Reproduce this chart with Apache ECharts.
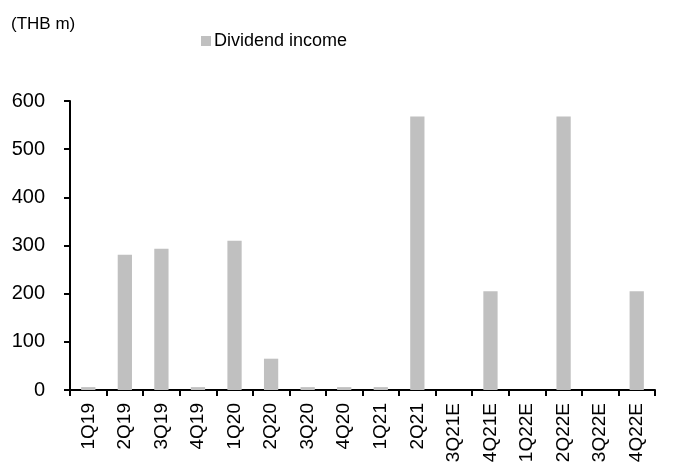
<!DOCTYPE html>
<html>
<head>
<meta charset="utf-8">
<script src="https://cdn.jsdelivr.net/npm/echarts@6/dist/echarts.min.js"></script>
<style>
  html, body { margin: 0; padding: 0; background: #fff; }
  #main { width: 673px; height: 475px; }
</style>
</head>
<body>
<div id="main"></div>
<script>
const quarters = ['1Q19', '2Q19', '3Q19', '4Q19', '1Q20', '2Q20', '3Q20', '4Q20',
  '1Q21', '2Q21', '3Q21E', '4Q21E', '1Q22E', '2Q22E', '3Q22E', '4Q22E'];
const dividendIncome = [6, 281, 293, 6, 310, 65, 6, 6, 6, 568, 0, 205, 0, 568, 0, 205];
const yTicks = [0, 100, 200, 300, 400, 500, 600];

const font = 'Liberation Sans, Arial, sans-serif';
let myChart = echarts.init(document.getElementById('main'));
let option = {
  animation: false,
  title: {
    text: '(THB m)',
    left: 6,
    top: 11,
    textStyle: { fontFamily: font, fontSize: 17, fontWeight: 'normal', color: '#000' }
  },
  legend: {
    data: ['Dividend income'],
    left: 196,
    top: 27,
    icon: 'rect',
    itemWidth: 10,
    itemHeight: 10,
    itemGap: 4,
    textStyle: { fontFamily: font, fontSize: 18, color: '#000', padding: [0, 0, 0, -2] }
  },
  grid: {
    left: 70,
    right: 18,
    top: 101,
    bottom: 85
  },
  xAxis: {
    type: 'category',
    data: quarters,
    axisLine: { lineStyle: { color: '#000', width: 2 } },
    axisTick: { show: true, length: 6, lineStyle: { color: '#000', width: 2 } },
    axisLabel: {
      rotate: 90,
      interval: 0,
      margin: 13,
      fontFamily: font,
      fontSize: 19,
      color: '#000'
    }
  },
  yAxis: {
    type: 'value',
    min: yTicks[0],
    max: yTicks[yTicks.length - 1],
    interval: 100,
    axisLine: { show: true, lineStyle: { color: '#000', width: 2 } },
    axisTick: { show: true, length: 6, lineStyle: { color: '#000', width: 2 } },
    splitLine: { show: false },
    axisLabel: {
      margin: 25,
      fontFamily: font,
      fontSize: 20,
      color: '#000'
    }
  },
  series: [{
    name: 'Dividend income',
    type: 'bar',
    data: dividendIncome,
    barWidth: '39%',
    itemStyle: { color: '#c0c0c0' }
  }]
};
myChart.setOption(option);
</script>
</body>
</html>
